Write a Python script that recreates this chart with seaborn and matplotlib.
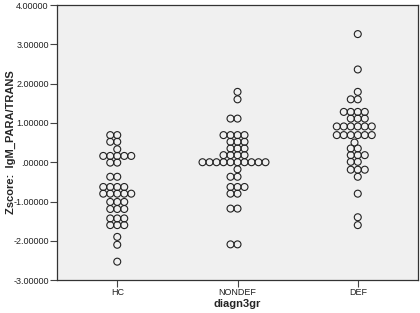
import numpy as np
import pandas as pd
import seaborn as sns
import matplotlib.pyplot as plt
from matplotlib.ticker import FuncFormatter

# binned values, with number of dots per row
groups = ['HC', 'NONDEF', 'DEF']

hc_vals = [0.69, 0.52, 0.33, 0.16, -0.01, -0.37, -0.63, -0.80, -1.01, -1.19,
           -1.43, -1.60, -1.90, -2.10, -2.53]
hc_counts = [2, 2, 1, 5, 2, 2, 4, 5, 3, 3, 3, 3, 1, 1, 1]

nondef_vals = [1.79, 1.60, 1.11, 0.69, 0.52, 0.35, 0.18, 0.00, -0.18, -0.37,
               -0.63, -0.80, -1.18, -2.09]
nondef_counts = [1, 1, 2, 4, 3, 3, 4, 10, 1, 2, 3, 2, 2, 2]

def_vals = [3.26, 2.36, 1.79, 1.60, 1.28, 1.11, 0.91, 0.69, 0.50, 0.35, 0.18,
            0.01, -0.19, -0.37, -0.80, -1.40, -1.60]
def_counts = [1, 1, 1, 2, 4, 3, 6, 6, 1, 2, 3, 2, 3, 1, 1, 1, 1]

rows = []
for g, vals, cnts in [('HC', hc_vals, hc_counts),
                      ('NONDEF', nondef_vals, nondef_counts),
                      ('DEF', def_vals, def_counts)]:
    for v, n in zip(vals, cnts):
        rows += [(g, v)] * n
df = pd.DataFrame(rows, columns=['diagn3gr', 'z'])

sns.set_style('ticks')
plt.rcParams['font.family'] = ['Liberation Sans', 'DejaVu Sans']

fig = plt.figure(figsize=(4.2, 3.13), dpi=100)
ax = fig.add_axes([0.136, 0.105, 0.859, 0.879])
ax.set_facecolor('#f0f0f0')

# swarm laid out with a smaller marker so rows pack tightly like SPSS
sns.swarmplot(data=df, x='diagn3gr', y='z', order=groups, ax=ax,
              color='black', size=4.0, linewidth=0.8, warn_thresh=1)

ax.set_ylim(-3, 4)
ax.set_xlim(-0.5, 2.5)
ax.set_yticks(range(-3, 5))
ax.yaxis.set_major_formatter(FuncFormatter(
    lambda v, p: '.00000' if v == 0 else '%.5f' % v))

ax.set_xlabel('diagn3gr', fontsize=8, fontweight='bold', labelpad=1)
ax.set_ylabel('Zscore:  IgM_PARA/TRANS', fontsize=8, fontweight='bold', labelpad=1)
ax.tick_params(axis='both', labelsize=6.5, length=5, width=0.8,
               color='#444444', labelcolor='#222222', pad=1)
ax.yaxis.set_label_coords(-0.115, 0.5)

for s in ax.spines.values():
    s.set_visible(True)
    s.set_color('#333333')
    s.set_linewidth(0.9)

# fix the swarm positions, then draw the circles at full size
fig.canvas.draw()
for c in ax.collections:
    if 'draw' in c.__dict__:
        del c.draw
    c.set_sizes([5.0 ** 2] * len(c.get_offsets()))
    c.set_facecolor('none')
    c.set_edgecolor('#222222')
    c.set_linewidth(0.8)

fig.savefig('out.png', dpi=100)
